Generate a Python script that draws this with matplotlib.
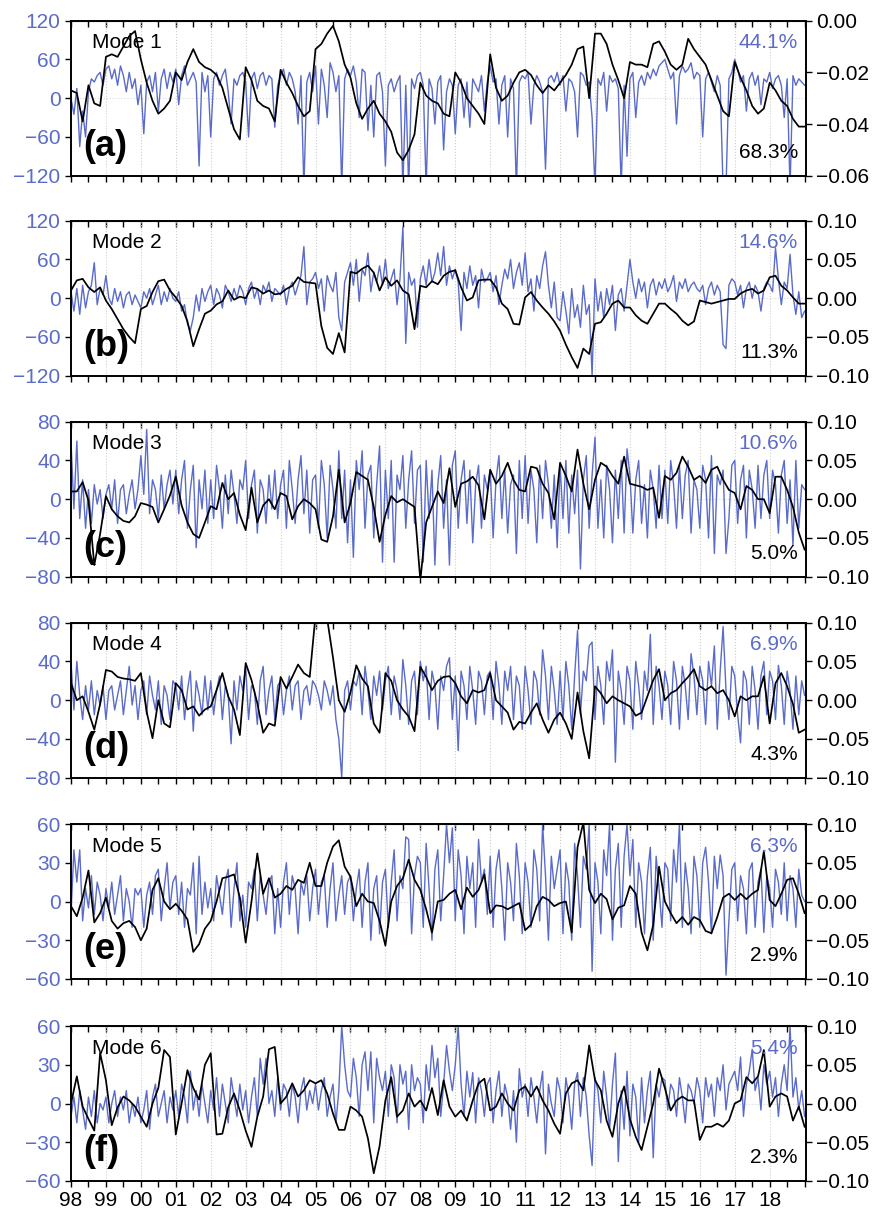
import numpy as np
import matplotlib.pyplot as plt
from matplotlib.ticker import MultipleLocator, FuncFormatter

plt.rcParams["font.family"] = ["Liberation Sans", "DejaVu Sans"]

BLUE = "#5b6bc9"

# black curves: 6 samples per year from 1998.0, blue curves: 12 per year
mode1_black = [
    -0.027, -0.028, -0.039, -0.025, -0.032, -0.033,
    -0.014, -0.013, -0.014, -0.010, -0.006, -0.004,
    -0.015, -0.024, -0.031, -0.036, -0.034, -0.031,
    -0.020, -0.023, -0.016, -0.011, -0.016, -0.018,
    -0.019, -0.021, -0.026, -0.034, -0.042, -0.046,
    -0.018, -0.023, -0.031, -0.033, -0.034, -0.039,
    -0.019, -0.024, -0.028, -0.033, -0.037, -0.035,
    -0.011, -0.009, -0.005, -0.002, -0.008, -0.017,
    -0.022, -0.032, -0.038, -0.034, -0.031, -0.036,
    -0.039, -0.043, -0.051, -0.054, -0.050, -0.044,
    -0.024, -0.029, -0.031, -0.032, -0.036, -0.037,
    -0.020, -0.024, -0.030, -0.033, -0.036, -0.040,
    -0.013, -0.026, -0.031, -0.029, -0.024, -0.020,
    -0.019, -0.021, -0.025, -0.028, -0.025, -0.027,
    -0.024, -0.021, -0.017, -0.011, -0.010, -0.030,
    -0.005, -0.005, -0.009, -0.017, -0.023, -0.030,
    -0.016, -0.017, -0.017, -0.018, -0.009, -0.008,
    -0.012, -0.017, -0.019, -0.017, -0.007, -0.011,
    -0.014, -0.017, -0.023, -0.029, -0.035, -0.037,
    -0.016, -0.022, -0.027, -0.033, -0.036, -0.034,
    -0.024, -0.027, -0.031, -0.033, -0.038, -0.041,
    -0.041,
]
mode1_blue = [
    0, -25, 15, -75, -20, -60, 10, 30, 25, 35, 40, 20,
    45, 50, 30, 45, 20, 50, 35, 10, 40, 15, 30, -10,
    20, -55, 25, 35, 10, 40, -20, 30, 45, 15, 40, 25,
    45, -10, 35, 50, 20, 30, 40, 25, -105, 40, 10, 35,
    -60, 30, 40, 20, 35, 45, 10, -40, 30, 20, 35, 40,
    25, -60, 30, 40, 15, 35, 40, 20, 35, 30, -45, 20,
    35, 45, 20, 40, 30, 10, -40, 35, -140, 25, 40, 10,
    50, -40, 45, 20, -30, 55, 40, 10, 35, -140, 30, 45,
    35, 50, 25, -30, 45, 40, -50, 20, -60, 35, 40, 10,
    -105, 20, 30, 10, 25, 35, -140, 20, -140, 30, 15, 35,
    40, 20, -140, 30, 15, -40, 25, 35, -80, 10, 30, 20,
    -55, 20, 30, -30, 25, -45, 30, 20, 10, 35, -20, 25,
    50, 25, 30, -40, 20, 35, -60, 30, 15, -140, 25, 35,
    30, 40, -40, 20, 35, 25, 10, -110, 30, 35, 25, 40,
    20, 35, -20, 30, 25, 10, -60, 40, 35, 20, 25, -30,
    -140, 30, 20, 40, -20, 35, 25, 30, 15, -140, 20, -90,
    30, 40, -30, 25, 35, 20, 40, 30, 45, 35, 50, 55,
    60, 45, 30, 40, -40, 35, 50, 40, 45, 55, 30, 40,
    35, -60, 30, 40, 25, 10, 35, 20, -140, -140, 30, 40,
    60, 45, 25, 35, -20, 30, 40, 20, 35, -10, 30, 25,
    40, 15, 30, 35, 20, -30, 30, -140, 35, 20, 30, 25,
    20,
]

mode2_black = [
    0.010, 0.023, 0.025, 0.014, 0.008, 0.014,
    -0.003, -0.014, -0.027, -0.040, -0.050, -0.058,
    -0.014, -0.010, 0.008, 0.022, 0.024, 0.010,
    0.001, -0.010, -0.030, -0.062, -0.040, -0.020,
    -0.016, -0.008, -0.004, 0.010, -0.002, 0.002,
    0.000, 0.014, 0.012, 0.006, 0.010, 0.005,
    0.006, 0.012, 0.016, 0.027, 0.021, 0.020,
    0.019, -0.036, -0.064, -0.072, -0.045, -0.070,
    0.034, 0.032, 0.038, 0.042, 0.033, 0.010,
    0.027, 0.016, 0.023, 0.010, 0.005, -0.040,
    0.016, 0.014, 0.022, 0.018, 0.029, 0.034,
    0.036, 0.014, -0.003, 0.001, 0.023, 0.024,
    0.024, 0.014, -0.007, -0.014, -0.033, -0.034,
    0.001, 0.008, -0.003, -0.012, -0.020, -0.030,
    -0.042, -0.060, -0.076, -0.090, -0.065, -0.072,
    -0.033, -0.031, -0.020, -0.007, -0.003, -0.012,
    -0.012, -0.022, -0.029, -0.033, -0.020, -0.007,
    -0.007, -0.014, -0.020, -0.029, -0.035, -0.030,
    -0.003, -0.005, -0.007, -0.005, -0.003, -0.001,
    -0.001, 0.006, 0.010, 0.012, 0.006, 0.010,
    0.027, 0.029, 0.016, 0.010, 0.001, -0.007,
    -0.007,
]
mode2_blue = [
    10, -20, 15, -25, 20, -15, 10, 20, 55, -10, 15, 5,
    35, 0, -10, 15, -5, 10, -15, 5, 10, -10, 5, -5,
    -15, 10, 0, 15, -10, 5, 20, -10, 10, -5, 15, 0,
    -5, 10, -20, -10, -40, -50, -30, 5, -20, 15, -5, 10,
    20, -10, 15, 5, -15, 20, 10, -5, 15, 0, 20, 10,
    -10, 15, 25, 0, 15, -10, 20, 10, 25, -5, 15, 10,
    5, 20, -10, 15, 25, 5, 20, 35, 80, -10, 25, 30,
    40, 15, 30, -20, 35, 20, 10, 40, -30, -50, 25, 40,
    55, 20, 60, -5, 45, 35, 70, 10, 40, 25, 50, 20,
    60, 15, 30, 45, -10, 30, 110, -70, 40, 20, 30, -45,
    30, 50, 20, 60, 25, 40, 70, 35, 80, 20, 50, 30,
    45, 25, -50, 40, 15, 50, 20, 35, -15, 45, 25, 30,
    40, 10, 35, -10, 20, 45, 30, 60, 15, 40, 55, 20,
    70, 10, 30, -20, 35, 15, 50, 72, 20, -15, 25, -30,
    -35, 10, -20, -55, 15, -30, -10, -45, 20, -25, -10, -120,
    30, -20, 10, -30, 15, -10, 20, -50, 5, 15, -20, 20,
    60, 25, 0, 30, 10, 25, -15, 20, 30, 5, 25, 15,
    30, 10, 20, 35, -5, 25, 15, 30, 10, 20, 25, 15,
    10, 20, -10, 15, 25, 5, 20, 10, -72, -78, 20, 30,
    25, 5, 20, -15, 15, 25, 0, 20, 10, -20, 15, 25,
    20, 10, 78, 30, -10, 25, 15, 68, 5, -25, 10, -30,
    -20,
]

mode3_black = [
    0.010, 0.010, 0.022, -0.002, -0.085, -0.045,
    0.004, -0.013, -0.022, -0.028, -0.030, -0.022,
    -0.005, -0.007, -0.010, -0.030, -0.013, 0.005,
    0.029, -0.008, -0.030, -0.045, -0.050, -0.030,
    -0.009, -0.013, 0.021, 0.000, 0.008, -0.020,
    -0.040, 0.015, -0.030, -0.008, 0.000, -0.013,
    0.008, 0.004, -0.026, -0.009, 0.000, -0.005,
    -0.013, -0.052, -0.055, -0.022, 0.038, -0.030,
    -0.005, 0.035, 0.030, 0.025, -0.010, -0.055,
    -0.020, 0.004, -0.004, 0.000, -0.005, -0.010,
    -0.105, -0.030, -0.010, 0.010, -0.005, 0.040,
    -0.010, 0.020, 0.023, 0.029, 0.018, -0.026,
    0.038, 0.020, 0.030, 0.047, 0.025, 0.012,
    0.010, 0.042, 0.040, 0.020, 0.008, -0.026,
    0.047, 0.030, 0.010, 0.064, 0.020, -0.013,
    0.025, 0.047, 0.042, 0.030, 0.020, 0.055,
    0.020, 0.018, 0.016, 0.012, 0.015, -0.024,
    0.030, 0.025, 0.034, 0.055, 0.042, 0.025,
    0.030, 0.021, 0.038, 0.042, 0.025, 0.012,
    0.008, -0.013, 0.017, 0.012, 0.000, 0.000,
    -0.018, 0.029, 0.029, 0.012, -0.010, -0.043,
    -0.065,
]
mode3_blue = [
    60, -10, 60, -20, 20, -30, 10, -25, 15, -5, 10, -20,
    5, 15, -10, 20, -25, 10, 15, -15, 5, 20, -10, 10,
    45, 5, 72, -15, 20, 10, -20, 25, -10, 15, 30, -5,
    30, -15, 20, 40, -30, 10, 35, -50, 20, -10, 30, -25,
    20, -20, 35, 10, -30, 25, -15, 30, 5, -25, 20, 10,
    40, -20, 15, 30, -35, 20, 10, -25, 25, -10, 30, -20,
    15, 30, -30, 40, 10, -25, 20, 45, -15, 30, -35, 20,
    25, -30, 40, 15, -40, 35, 10, -30, 50, -20, 30, -45,
    20, -60, 40, 10, 50, -30, 25, 35, -40, 15, 55, -65,
    30, -20, 40, -65, 25, 10, 45, -30, 20, 50, -25, 30,
    35, -65, 40, -20, 30, -68, 15, 45, -30, 20, -68, 35,
    50, -30, 20, 40, -25, 30, -45, 15, 35, -30, 25, 10,
    30, -40, 20, 45, -20, 30, -35, 15, 25, -56, 40, -20,
    45, -25, 30, 10, -45, 35, -20, 40, 15, -30, 25, -50,
    35, -20, 40, -35, 25, -15, 30, -72, 20, 45, -30, 25,
    64, -30, 20, -40, 35, 10, -45, 30, -20, 40, -35, 52,
    25, -35, 20, 40, -25, 15, -40, 30, 10, -30, 35, -20,
    30, -25, 40, 15, -30, 35, -20, 25, 40, -35, 20, 10,
    -30, 35, 20, -40, 45, -56, 25, 15, 30, -56, -20, 35,
    40, -25, 20, 35, -40, 30, 10, -30, 35, -20, 25, 40,
    -20, 30, 15, -35, 25, 40, -25, 20, -48, 40, -30, 15,
    10,
]

mode4_black = [
    0.022, 0.000, 0.005, -0.015, -0.038, -0.005,
    0.039, 0.037, 0.030, 0.028, 0.027, 0.025,
    0.035, -0.015, -0.049, 0.000, -0.030, -0.035,
    0.022, 0.013, -0.012, -0.008, -0.020, -0.012,
    -0.008, 0.013, 0.035, 0.005, -0.012, -0.045,
    0.048, 0.026, -0.004, -0.042, -0.030, -0.033,
    0.030, 0.015, 0.030, 0.046, 0.035, 0.030,
    0.110, 0.110, 0.105, 0.055, 0.000, -0.015,
    0.010, 0.045, 0.028, 0.018, -0.030, -0.042,
    0.035, 0.025, 0.000, -0.012, -0.021, -0.040,
    0.043, 0.030, 0.013, 0.025, 0.030, 0.031,
    0.022, 0.005, -0.004, 0.013, 0.010, 0.013,
    0.035, 0.000, -0.008, -0.016, -0.038, -0.028,
    -0.030, -0.016, -0.004, -0.025, -0.042, -0.025,
    -0.016, -0.030, -0.050, 0.010, -0.040, -0.075,
    0.018, 0.009, -0.004, 0.005, 0.000, -0.004,
    -0.008, -0.020, -0.016, 0.005, 0.026, 0.040,
    0.000, 0.009, 0.013, 0.022, 0.030, 0.040,
    0.018, 0.013, 0.018, 0.009, 0.013, 0.000,
    -0.021, 0.005, 0.000, 0.005, 0.005, 0.031,
    -0.030, 0.022, 0.035, 0.018, -0.005, -0.042,
    -0.038,
]
mode4_blue = [
    40, -10, 40, 5, -20, 15, -10, 20, -15, 10, -5, 15,
    -20, 10, 15, -10, 5, 20, -15, 10, 35, -5, 15, -20,
    10, 20, -15, 25, 5, -10, 20, -25, 15, 5, -20, 20,
    15, -10, 25, -20, 10, 30, -32, 20, 5, -15, 25, -10,
    20, -15, 10, 25, -20, 15, 5, -45, 20, -10, 25, 10,
    35, -20, 15, 10, -25, 20, 35, -15, 10, 25, -20, 15,
    20, -15, 10, 25, -10, 15, 20, -20, 10, 15, -5, 20,
    15, 5, -10, 20, 10, -5, 15, -20, -40, -80, 10, 20,
    -10, 20, 15, 30, -15, 35, 10, -20, 25, 5, 30, -10,
    20, 35, -15, 25, 10, -20, 42, 15, -25, 20, 30, -15,
    40, 20, 35, -20, 30, 15, -30, 25, 10, 35, 44, -20,
    25, -52, 30, 15, -20, 35, 10, -25, 30, 20, -15, 25,
    30, -20, 40, 15, -25, 30, 10, 35, -20, 25, 15, -30,
    35, 10, -25, 30, 20, -15, 52, 25, -20, 35, 10, -25,
    30, -20, 40, 15, -30, 25, 72, -15, 30, 20, 56, 60,
    -20, 35, 15, -25, 40, 20, 52, -64, 30, 10, -25, 35,
    20, -30, 40, 15, -20, 30, 10, 68, -25, 35, 15, -20,
    30, 15, -25, 40, 20, -30, 35, 15, -20, 48, 25, -15,
    35, 20, -25, 40, 15, 56, -30, 30, 76, 10, -20, 35,
    25, -15, -44, 30, 20, -25, 35, 10, -30, 25, 40, -15,
    30, 20, -20, 36, 15, -25, 30, 10, -30, 25, -15, 20,
    5,
]

mode5_black = [
    -0.006, -0.019, 0.005, 0.040, -0.027, -0.015,
    0.005, -0.025, -0.035, -0.028, -0.025, -0.033,
    -0.050, -0.035, 0.015, 0.030, 0.000, -0.010,
    -0.003, -0.012, -0.023, -0.065, -0.055, -0.035,
    -0.025, 0.000, 0.030, 0.032, 0.035, 0.005,
    -0.053, 0.000, 0.062, 0.010, 0.030, 0.005,
    0.010, 0.020, 0.015, 0.028, 0.024, 0.050,
    0.020, 0.020, 0.050, 0.071, 0.079, 0.045,
    0.032, -0.006, 0.010, 0.000, -0.002, -0.025,
    -0.057, 0.000, 0.020, 0.030, 0.054, 0.028,
    0.015, -0.010, -0.040, 0.000, 0.002, 0.010,
    0.015, -0.010, 0.018, 0.006, 0.015, 0.035,
    -0.015, -0.005, -0.006, -0.010, -0.006, -0.002,
    -0.037, -0.030, -0.006, 0.006, 0.002, -0.006,
    -0.002, 0.000, -0.040, 0.070, 0.102, 0.015,
    -0.002, 0.010, 0.003, -0.023, -0.008, -0.005,
    0.020, 0.010, -0.040, -0.063, -0.030, 0.045,
    0.000, -0.015, -0.028, -0.020, -0.030, -0.020,
    -0.024, -0.038, -0.041, -0.020, 0.005, 0.010,
    0.002, 0.010, 0.003, 0.010, 0.015, 0.065,
    0.002, -0.006, 0.010, 0.028, 0.030, 0.010,
    -0.015,
]
mode5_blue = [
    -10, 40, 15, 40, -15, 10, -5, 20, -10, 15, 5, -15,
    10, -5, 15, -10, 5, 20, -15, 10, 0, -20, 10, 5,
    10, -20, 5, 15, -10, 20, 25, -15, 10, 30, -5, 15,
    20, -10, 15, -20, 10, 5, 30, -25, 35, -10, 15, -5,
    10, -15, 20, 5, -10, 15, 25, -20, 10, 30, -15, 5,
    -20, 15, 10, 25, -15, 20, 5, -10, 15, 20, -25, 10,
    -20, 15, 30, -10, 20, 10, -25, 15, 5, 20, -15, 10,
    25, -10, 15, 20, -20, 10, 30, -15, 5, 20, -10, 15,
    20, -15, 10, 25, -20, 15, 30, -30, 10, 20, -25, 15,
    25, -20, 15, 40, -15, 20, 10, 50, 48, -25, 20, 35,
    30, -20, 45, 10, -30, 25, 40, -15, 20, 60, 30, 57,
    -15, 40, 20, -25, 35, 10, 30, -20, 48, 15, 25, -10,
    35, -20, 25, 40, 10, -30, 30, 15, -15, 45, 20, -25,
    30, 15, -20, 40, 25, -15, 60, 20, -30, 35, 10, 25,
    40, -25, 30, 15, -30, 45, 20, -20, 35, 25, 60, -54,
    30, 15, -25, 40, 20, 60, -30, 25, 45, -20, 35, 60,
    20, 48, -20, 30, 15, -25, 20, 42, -30, 35, 10, -20,
    30, 25, -15, 40, 15, 60, -20, 30, 10, -25, 35, 20,
    -20, 30, 42, 15, -25, 35, 10, 36, 20, -57, -15, 25,
    30, -15, 20, 10, -25, 24, 30, -20, 15, 25, -24, 20,
    10, -20, 25, 15, -10, 30, -15, 20, 10, -20, 25, 5,
    0,
]

mode6_black = [
    0.000, 0.035, -0.004, -0.020, -0.035, 0.065,
    0.030, -0.028, -0.005, 0.009, 0.004, -0.004,
    -0.017, -0.030, 0.000, 0.020, 0.069, 0.060,
    -0.040, 0.000, 0.043, 0.020, 0.005, 0.050,
    0.065, -0.040, -0.039, -0.005, 0.013, -0.009,
    -0.035, -0.056, -0.017, 0.009, 0.070, 0.073,
    0.000, 0.009, 0.026, 0.009, 0.017, 0.030,
    0.026, 0.030, 0.013, -0.013, -0.034, -0.034,
    -0.004, -0.009, -0.017, -0.045, -0.090, -0.055,
    0.004, 0.034, -0.017, -0.009, 0.013, -0.004,
    0.004, -0.009, 0.020, -0.015, 0.030, -0.004,
    -0.017, -0.009, -0.022, 0.004, 0.026, 0.032,
    -0.009, -0.004, 0.013, 0.000, -0.009, 0.017,
    0.022, 0.009, 0.022, 0.004, -0.009, -0.026,
    -0.039, 0.013, 0.026, 0.030, 0.017, 0.075,
    0.030, 0.017, -0.022, -0.043, 0.000, 0.022,
    -0.020, -0.043, -0.060, -0.030, 0.000, 0.045,
    0.020, -0.009, 0.004, 0.009, 0.004, 0.004,
    -0.047, -0.030, -0.030, -0.026, -0.030, -0.022,
    0.000, 0.004, 0.034, 0.026, 0.035, 0.069,
    -0.004, 0.009, 0.013, 0.009, -0.022, -0.004,
    -0.030,
]
mode6_blue = [
    -10, 5, -15, 10, -5, -20, 5, -10, 10, -15, 0, -5,
    5, -15, 0, 10, -10, 5, -5, 10, -15, 0, -10, 5,
    -15, -5, 10, -20, 5, 15, -10, 0, 10, -15, 5, -5,
    10, -10, 15, 5, -15, 25, -5, 10, -10, 15, 0, -15,
    10, -5, 20, -10, 15, 0, -15, 20, 5, -10, 15, -5,
    10, -15, 5, 20, -10, 35, 15, 35, 0, 10, -10, 20,
    -5, 15, 10, -10, 15, 5, -15, 10, 20, -5, 10, 0,
    15, -5, 10, 20, -10, 5, 15, -15, 10, 60, 30, 10,
    5, 35, 20, -10, 30, 40, 10, 40, -15, 35, 20, 10,
    25, -10, 30, 20, -15, 30, 15, 25, -20, 30, 10, 20,
    15, -15, 30, 10, 45, 20, 35, -10, 15, 45, 25, 10,
    30, 60, 15, -10, 25, 5, 24, -15, 20, 10, -10, 15,
    20, -15, 10, 25, -10, 15, 5, -20, 10, -30, 27, 5,
    15, -10, 20, 5, -15, 10, 25, -39, 15, 0, -10, 20,
    10, -15, 20, 5, -20, 15, 24, -10, 20, 5, -25, -48,
    20, 10, -15, 25, 5, -20, 15, 39, -45, 10, -20, 25,
    -25, 15, 5, -30, 20, -15, 10, 25, -42, 15, 5, 20,
    18, -5, 15, 10, -10, 20, 5, -15, 15, 10, 0, 20,
    10, -15, 20, 5, 15, -10, 20, 10, 30, -5, 15, 20,
    25, 10, 36, -10, 15, 25, 42, 10, 20, -5, 30, 15,
    25, 5, 20, -10, 15, 30, 10, 60, 5, 20, -5, 10,
    -10,
]

mode_names = ["Mode 1", "Mode 2", "Mode 3", "Mode 4", "Mode 5", "Mode 6"]
panel_tags = ["(a)", "(b)", "(c)", "(d)", "(e)", "(f)"]
blue_pct = ["44.1%", "14.6%", "10.6%", "6.9%", "6.3%", "5.4%"]
black_pct = ["68.3%", "11.3%", "5.0%", "4.3%", "2.9%", "2.3%"]

blue_series = [mode1_blue, mode2_blue, mode3_blue, mode4_blue, mode5_blue, mode6_blue]
black_series = [mode1_black, mode2_black, mode3_black, mode4_black, mode5_black, mode6_black]

left_ticks = [
    [-120, -60, 0, 60, 120],
    [-120, -60, 0, 60, 120],
    [-80, -40, 0, 40, 80],
    [-80, -40, 0, 40, 80],
    [-60, -30, 0, 30, 60],
    [-60, -30, 0, 30, 60],
]
right_ticks = [
    [-0.06, -0.04, -0.02, 0.00],
    [-0.10, -0.05, 0.00, 0.05, 0.10],
    [-0.10, -0.05, 0.00, 0.05, 0.10],
    [-0.10, -0.05, 0.00, 0.05, 0.10],
    [-0.10, -0.05, 0.00, 0.05, 0.10],
    [-0.10, -0.05, 0.00, 0.05, 0.10],
]
years = list(range(1998, 2019))
year_labels = [f"{y % 100:02d}" for y in years]


def minus(s):
    return s.replace("-", "\u2212")


int_fmt = FuncFormatter(lambda v, p: minus(f"{int(round(v))}"))
dec_fmt = FuncFormatter(lambda v, p: minus(f"{0.0 if abs(v) < 1e-9 else v:.2f}"))

W, H = 877, 1213
fig = plt.figure(figsize=(W / 100, H / 100), dpi=100)
tops = [20.7, 220.7, 421.7, 622.7, 824.0, 1026.0]
ph = 155

for i in range(6):
    blue = blue_series[i]
    black = black_series[i]
    t_blue = 1998 + np.arange(len(blue)) / 12
    t_black = 1998 + np.arange(len(black)) / 6

    ax = fig.add_axes([71 / W, 1 - (tops[i] + ph) / H, 735 / W, ph / H])
    ax2 = ax.twinx()

    ax.plot(t_blue, blue, color=BLUE, lw=1.0)
    ax2.plot(t_black, black, color="black", lw=1.25)

    ax.set_xlim(1998, 2019.04)
    ax.set_ylim(left_ticks[i][0], left_ticks[i][-1])
    ax.set_yticks(left_ticks[i])
    ax.yaxis.set_major_formatter(int_fmt)
    ax2.set_ylim(right_ticks[i][0], right_ticks[i][-1])
    ax2.set_yticks(right_ticks[i])
    ax2.yaxis.set_major_formatter(dec_fmt)

    ax.set_xticks(years)
    ax.xaxis.set_minor_locator(MultipleLocator(0.5))
    ax.grid(axis="x", which="major", color="#cfcfcf", ls=":", lw=0.8)
    ax.axhline(0, color="#d8d8d8", ls=":", lw=0.8, zorder=0)

    ax.tick_params(axis="y", labelcolor=BLUE, labelsize=15, length=4, width=1, direction="out")
    ax2.tick_params(axis="y", labelsize=15, length=4, width=1, direction="out")
    ax.tick_params(axis="x", which="both", direction="out", length=4, width=1,
                   labelsize=15, top=False)
    if i == 5:
        ax.set_xticklabels(year_labels)
    else:
        ax.tick_params(axis="x", labelbottom=False)

    top = ax.secondary_xaxis("top")
    top.set_xticks(years)
    top.xaxis.set_minor_locator(MultipleLocator(0.5))
    top.tick_params(axis="x", which="both", direction="in", length=4, width=1, labeltop=False)

    for a in (ax, ax2):
        for sp in a.spines.values():
            sp.set_linewidth(1.2)

    ax2.text(0.029, 0.857, mode_names[i], transform=ax2.transAxes, fontsize=15,
             ha="left", va="center", zorder=5)
    ax2.text(0.016, 0.19, panel_tags[i], transform=ax2.transAxes, fontsize=26,
             fontweight="bold", ha="left", va="center", zorder=5)
    ax2.text(0.989, 0.857, blue_pct[i], transform=ax2.transAxes, fontsize=15,
             color=BLUE, ha="right", va="center", zorder=5)
    ax2.text(0.989, 0.15, black_pct[i], transform=ax2.transAxes, fontsize=15,
             ha="right", va="center", zorder=5)

fig.savefig("out.png", dpi=100, facecolor="white")
